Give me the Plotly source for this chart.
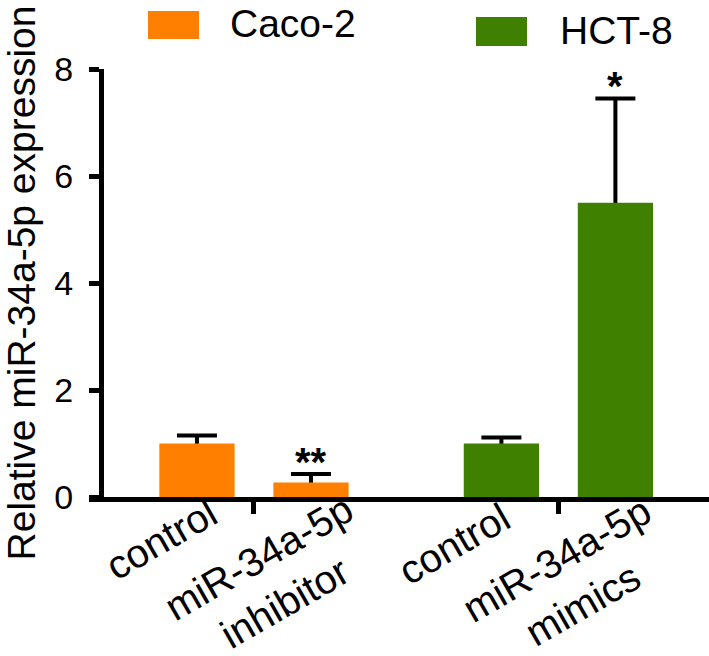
import plotly.graph_objects as go

# ---------------- data ----------------
series_names = ["Caco-2", "HCT-8"]
caco2_labels = ["control", "miR-34a-5p<br>inhibitor"]
hct8_labels = ["control", "miR-34a-5p<br>mimics"]
caco2_values = [1.0, 0.27]
caco2_errors = [0.15, 0.16]
hct8_values = [1.0, 5.5]
hct8_errors = [0.11, 1.95]
caco2_sig = ["", "**"]
hct8_sig = ["", "*"]
y_ticks = [0, 2, 4, 6, 8]
y_title = "Relative miR-34a-5p expression"

# ---------------- layout / style ----------------
W, H = 709, 656
L, R, T, B = 89, 0, 69, 159
PW, PH = W - L - R, H - T - B
colors = ["#FF8000", "#408000"]
group_gap = 1.67
bar_width = 0.66
x_range = [-0.947, 4.491]
label_dx = [[30, 78], [18, 71]]
label_dy = [[10, 14], [5, 12]]
FONT = "Liberation Sans, Arial, sans-serif"


def px_x(px):
    return (px - L) / PW


def px_y(py):
    return (H - B - py) / PH


groups = [
    (caco2_labels, caco2_values, caco2_errors, caco2_sig),
    (hct8_labels, hct8_values, hct8_errors, hct8_sig),
]

fig = go.Figure()
annotations = []
group_mids = []
for g, (labels, vals, errs, sigs) in enumerate(groups):
    pos = [g * (1 + group_gap) + i for i in range(len(vals))]
    group_mids.append(sum(pos) / len(pos))
    # error carrier (drawn first, covered by the coloured bars)
    fig.add_trace(go.Bar(
        x=pos, y=vals, width=bar_width,
        marker=dict(color="rgba(0,0,0,0)", line=dict(width=0)),
        error_y=dict(type="data", symmetric=False, array=errs, arrayminus=vals,
                     color="black", thickness=4, width=20),
        showlegend=False, hoverinfo="skip",
    ))
    fig.add_trace(go.Bar(
        x=pos, y=vals, width=bar_width, name=series_names[g],
        marker=dict(color=colors[g], line=dict(width=0)),
        showlegend=False,
    ))
    for i, p in enumerate(pos):
        annotations.append(dict(
            x=p, y=0, xref="x", yref="paper", text=labels[i],
            textangle=-30, xanchor="right", yanchor="top",
            xshift=label_dx[g][i], yshift=label_dy[g][i], align="center",
            showarrow=False, font=dict(family=FONT, size=40, color="black"),
        ))
        if sigs[i]:
            annotations.append(dict(
                x=p, y=vals[i] + errs[i], xref="x", yref="y", text=sigs[i],
                xanchor="center", yanchor="bottom", yshift=-12,
                showarrow=False,
                font=dict(family=FONT, size=40, color="black", weight="bold"),
            ))

# legend drawn as boxes + text
legend_boxes = [(148, 11, 199, 39), (476, 17, 527, 46)]
legend_text_x = [228, 558]
shapes = []
for g, (x0, y0, x1, y1) in enumerate(legend_boxes):
    shapes.append(dict(type="rect", xref="paper", yref="paper",
                       x0=px_x(x0), x1=px_x(x1), y0=px_y(y1), y1=px_y(y0),
                       fillcolor=colors[g], line=dict(width=0)))
    annotations.append(dict(
        x=px_x(legend_text_x[g]), y=px_y((y0 + y1) / 2 - 1), xref="paper", yref="paper",
        text=series_names[g], xanchor="left", yanchor="middle", showarrow=False,
        font=dict(family=FONT, size=39, color="black"),
    ))

fig.update_layout(
    width=W, height=H,
    margin=dict(l=L, r=R, t=T, b=B, autoexpand=False),
    paper_bgcolor="white", plot_bgcolor="white",
    barmode="overlay",
    showlegend=False,
    shapes=shapes,
    annotations=annotations,
    xaxis=dict(
        range=x_range, showgrid=False, zeroline=False,
        showline=True, linewidth=5, linecolor="black",
        tickvals=group_mids, ticktext=["" for _ in group_mids],
        ticks="outside", ticklen=12, tickwidth=5, tickcolor="black",
        showticklabels=False, fixedrange=True,
    ),
    yaxis=dict(
        range=[0, 8], tickvals=y_ticks, ticktext=[str(v) for v in y_ticks],
        anchor="free", position=px_x(101),
        showgrid=False, zeroline=False,
        showline=True, linewidth=5, linecolor="black",
        ticks="outside", ticklen=10, tickwidth=5, tickcolor="black",
        tickfont=dict(family=FONT, size=34, color="black"),
        ticklabelstandoff=9,
        title=dict(text=y_title, standoff=6,
                   font=dict(family=FONT, size=39, color="black")),
        fixedrange=True,
    ),
)

fig.write_html("out.html", config={"displayModeBar": False},
               post_script="document.body.style.margin='0';")
